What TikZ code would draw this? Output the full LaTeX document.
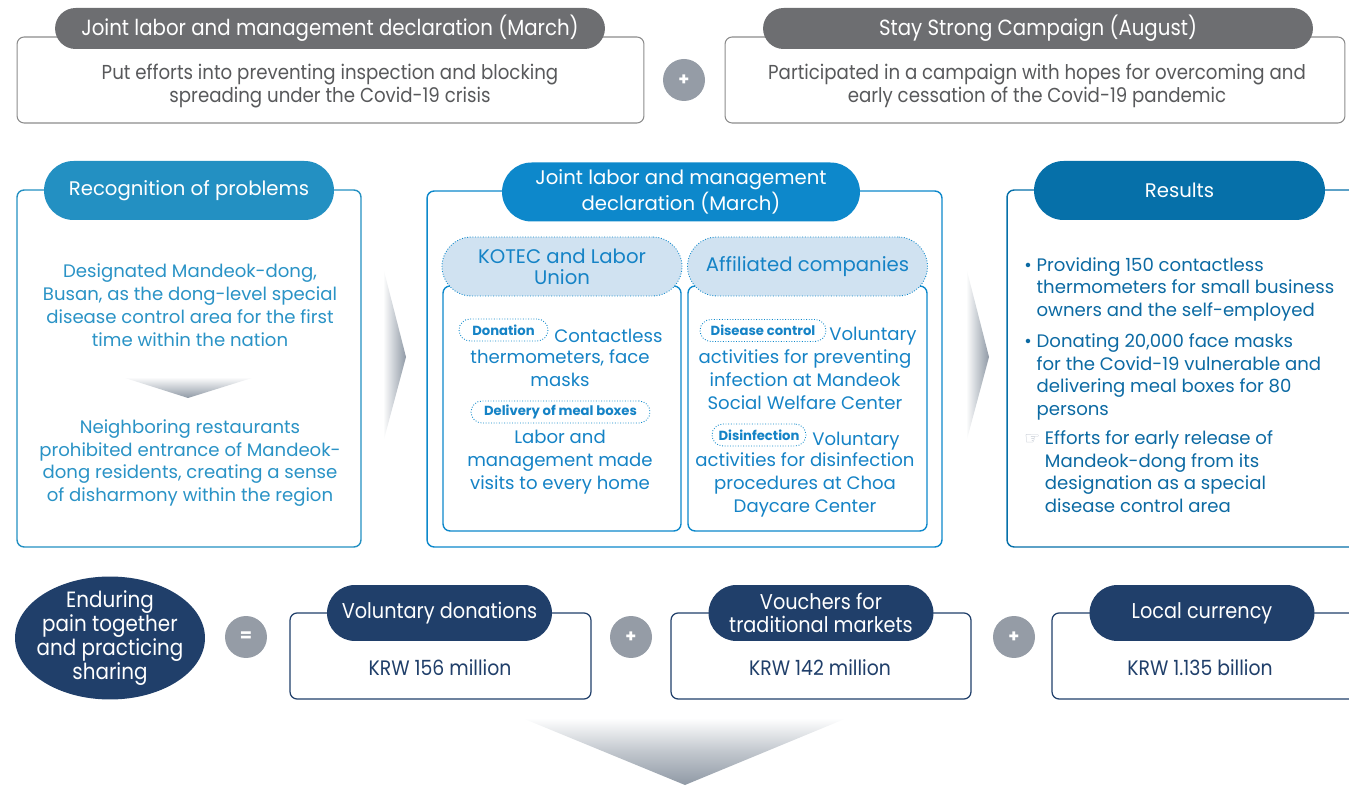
\documentclass[tikz,border=0pt]{standalone}
\usepackage{fontspec}
\setmainfont{Poppins}
\newfontfamily\condfont[FakeStretch=0.9]{Poppins}
\newfontfamily\symfont{DejaVu Sans}
\usetikzlibrary{positioning,calc,shapes.geometric}

\definecolor{headgray}{HTML}{6D6E71}
\definecolor{boxgray}{HTML}{8C8C8C}
\definecolor{textgray}{HTML}{58595B}
\definecolor{plusgray}{HTML}{959CA6}
\definecolor{arrowgray}{HTML}{8F99A5}
\definecolor{recogblue}{HTML}{2390C2}
\definecolor{recogtext}{HTML}{2A93C6}
\definecolor{jointblue}{HTML}{0D88CB}
\definecolor{jointtext}{HTML}{1583C6}
\definecolor{resblue}{HTML}{0670A9}
\definecolor{restext}{HTML}{0C6AA3}
\definecolor{lightfill}{HTML}{D0E2F1}
\definecolor{navy}{HTML}{203F6A}
\definecolor{handgray}{HTML}{B4BCC8}

\begin{document}
\begin{tikzpicture}[x=0.02cm, y=-0.02cm,
    graybox/.style={draw=boxgray, line width=0.6pt, rounded corners=4pt, fill=white, minimum height=1.72cm},
    grayhead/.style={fill=headgray, rounded corners=0.41cm, minimum width=11cm, minimum height=0.82cm, text=white, font=\condfont\fontsize{12.5}{14}\selectfont},
    graytext/.style={align=center, text=textgray, font=\condfont\fontsize{11.5}{13}\selectfont},
    plus/.style={circle, fill=plusgray, minimum size=0.84cm, inner sep=0pt, text=white, font=\bfseries\normalsize},
    bluebox/.style={draw=#1, line width=0.8pt, rounded corners=4pt, fill=white},
    bluehead/.style={fill=#1, rounded corners=0.59cm, minimum height=1.18cm, text=white, align=center, font=\fontsize{11.2}{12.5}\selectfont},
    subhead/.style={draw=jointblue, densely dotted, line width=0.5pt, fill=lightfill, rounded corners=0.59cm, minimum width=4.8cm, minimum height=1.18cm, text=jointtext, align=center, font=\fontsize{11.2}{12}\selectfont},
    tag/.style={draw=jointblue, densely dotted, line width=0.5pt, rounded corners=0.22cm, fill=white, minimum height=0.44cm, inner sep=1.5pt, text=jointtext, font=\bfseries\fontsize{7.5}{8}\selectfont},
    body/.style={align=center, font=\fontsize{10.3}{13}\selectfont},
    navybox/.style={draw=navy, line width=0.7pt, rounded corners=4pt, fill=white, minimum height=1.72cm},
    navyhead/.style={fill=navy, rounded corners=0.56cm, minimum width=4.5cm, minimum height=1.12cm, text=white, align=center, font=\condfont\fontsize{12.2}{13}\selectfont},
    navytext/.style={text=navy, font=\condfont\fontsize{11.9}{13}\selectfont}
]
\useasboundingbox (0,0) rectangle (1349,786);
\clip (0,0) rectangle (1349,786);

% top row
\node[graybox, minimum width=12.54cm] (topL) at (330.5,80) {};
\node[grayhead] (topLhead) at (330,28.5) {Joint labor and management declaration (March)};
\node[graytext] (topLtext) at (330,86) {Put efforts into preventing inspection and blocking\\spreading under the Covid-19 crisis};
\node[plus] (plusA) at (684,80) {+};
\node[graybox, minimum width=12.4cm] (topR) at (1035,80) {};
\node[grayhead] (topRhead) at (1038,28.5) {Stay Strong Campaign (August)};
\node[graytext] (topRtext) at (1037,86) {Participated in a campaign with hopes for overcoming and\\early cessation of the Covid-19 pandemic};

% recognition
\node[bluebox=recogblue, minimum width=6.88cm, minimum height=7.14cm] (recog) at (189,368.5) {};
\node[bluehead=recogblue, minimum width=5.8cm] (recoghead) at (189,190.5) {Recognition of problems};
\node[body, text=recogtext] (prob1) at (190,305) {Designated Mandeok-dong,\\Busan, as the dong-level special\\disease control area for the first\\time within the nation};
\shade[top color=white, bottom color=arrowgray] (122,377) -- (255,377) -- (188,398) -- cycle;
\node[body, text=recogtext] (prob2) at (190,463) {Neighboring restaurants\\prohibited entrance of Mandeok-\\dong residents, creating a sense\\of disharmony within the region};

\shade[left color=white, right color=arrowgray] (383,267) -- (406,357) -- (383,443) -- cycle;

% joint declaration
\node[bluebox=jointblue, minimum width=10.3cm, minimum height=7.12cm] (joint) at (684.5,369) {};
\node[bluehead=jointblue, minimum width=7.16cm] (jointhead) at (681,192) {Joint labor and management\\declaration (March)};
\node[bluebox=jointblue, minimum width=4.76cm, minimum height=4.9cm] (kotec) at (562,408.5) {};
\node[subhead] (kotechead) at (562,266.5) {KOTEC and Labor\\Union};
\node[bluebox=jointblue, minimum width=4.78cm, minimum height=4.9cm] (affil) at (807.5,408.5) {};
\node[subhead] (affilhead) at (807.5,266.5) {Affiliated companies};

\node[tag, minimum width=1.78cm] (tagdon) at (503.5,330) {Donation};
\node[body, text=jointtext, anchor=west, inner sep=0pt] (don1) at (554,336) {Contactless};
\node[body, text=jointtext] (don2) at (560,368) {thermometers, face\\masks};
\node[tag, minimum width=3.58cm] (tagmeal) at (560.5,412) {Delivery of meal boxes};
\node[body, text=jointtext] (meal) at (560,462) {Labor and\\management made\\visits to every home};

\node[tag, minimum width=2.52cm] (tagdis) at (763,330.5) {Disease control};
\node[body, text=jointtext, anchor=west, inner sep=0pt] (dis1) at (829,336) {Voluntary};
\node[body, text=jointtext] (dis2) at (805,379.5) {activities for preventing\\infection at Mandeok\\Social Welfare Center};
\node[tag, minimum width=1.88cm] (taginf) at (759,435) {Disinfection};
\node[body, text=jointtext, anchor=west, inner sep=0pt] (inf1) at (812,441) {Voluntary};
\node[body, text=jointtext] (inf2) at (805,485) {activities for disinfection\\procedures at Choa\\Daycare Center};

\shade[left color=white, right color=arrowgray] (966,267) -- (989,357) -- (966,443) -- cycle;

% results
\node[bluebox=resblue, minimum width=7.16cm, minimum height=7.14cm] (res) at (1186,368.5) {};
\node[bluehead=resblue, minimum width=5.82cm] (reshead) at (1179.5,190.5) {Results};
\node[body, align=left, text=restext, anchor=north west, inner sep=0pt] (res1) at (1024,257) {\textbullet\ Providing 150 contactless\\\phantom{\textbullet\ }thermometers for small business\\\phantom{\textbullet\ }owners and the self-employed};
\node[body, align=left, text=restext, anchor=north west, inner sep=0pt] (res2) at (1024,333) {\textbullet\ Donating 20,000 face masks\\\phantom{\textbullet\ }for the Covid-19 vulnerable and\\\phantom{\textbullet\ }delivering meal boxes for 80\\\phantom{\textbullet\ }persons};
\node[body, align=left, text=restext, anchor=north west, inner sep=0pt] (res3) at (1024,430) {{\symfont\fontsize{10}{10}\selectfont\color{handgray}☞}\ Efforts for early release of\\\phantom{{\symfont\fontsize{10}{10}\selectfont ☞}\ }Mandeok-dong from its\\\phantom{{\symfont\fontsize{10}{10}\selectfont ☞}\ }designation as a special\\\phantom{{\symfont\fontsize{10}{10}\selectfont ☞}\ }disease control area};

% bottom row
\node[ellipse, fill=navy, minimum width=3.8cm, minimum height=2.46cm, inner sep=-0.13cm, align=center, text=white, font=\condfont\fontsize{12.6}{13.6}\selectfont] (endure) at (110,638) {Enduring\\pain together\\and practicing\\sharing};
\node[plus] (eq) at (246,637) {=};

\node[navybox, minimum width=6.02cm] (don) at (440.5,656) {};
\node[navyhead] (donhead) at (439.5,613) {Voluntary donations};
\node[navytext] (donval) at (440,668) {KRW 156 million};
\node[plus] (plusB) at (631,637) {+};

\node[navybox, minimum width=6cm] (vouch) at (821,656) {};
\node[navyhead] (vouchhead) at (821,613) {Vouchers for\\traditional markets};
\node[navytext] (vouchval) at (820,668) {KRW 142 million};
\node[plus] (plusC) at (1014,637) {+};

\node[navybox, minimum width=6.26cm] (cur) at (1208.5,656) {};
\node[navyhead] (curhead) at (1202,613) {Local currency};
\node[navytext] (curval) at (1200,668) {KRW 1.135 billion};

\shade[top color=white, bottom color=arrowgray, middle color=arrowgray!55] (522,718) -- (847,718) -- (685,785) -- cycle;
\end{tikzpicture}
\end{document}
